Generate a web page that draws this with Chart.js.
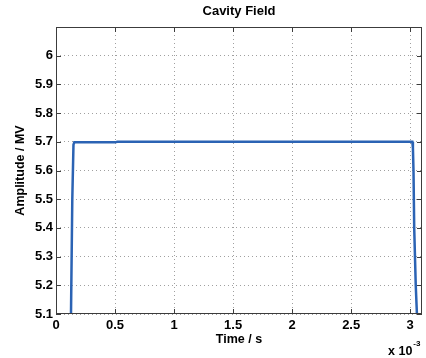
<!DOCTYPE html>
<html>
<head>
<meta charset="utf-8">
<title>Cavity Field</title>
<script src="https://cdn.jsdelivr.net/npm/chart.js@4.4.1/dist/chart.umd.min.js"></script>
<style>
    html, body { margin: 0; padding: 0; background: #fff; }
</style>
</head>
<body>
<canvas id="cavityChart" width="426" height="358"></canvas>
<script>
// time axis is in units of 1e-3 s (multiplier printed under the axis)
const time = [0.120, 0.127, 0.138, 0.148, 0.155, 0.50, 0.52, 3.018, 3.023, 3.028, 3.034, 3.047, 3.057, 3.065];
const amplitude = [5.00, 5.10, 5.50, 5.69, 5.698, 5.698, 5.700, 5.700, 5.68, 5.60, 5.40, 5.20, 5.10, 5.00];

const xTicks = [0, 0.5, 1, 1.5, 2, 2.5, 3];
const yTicks = [5.1, 5.2, 5.3, 5.4, 5.5, 5.6, 5.7, 5.8, 5.9, 6];

const lineColor = "#2b63b4";
const gridColor = "#a0a0a0";
const axisColor = "#3c3c3c";
const fontFamily = "'Liberation Sans', Arial, Helvetica, sans-serif";

const points = time.map((t, i) => ({ x: t, y: amplitude[i] }));

// axes box with inward tick marks, plus the x-axis exponent
const boxPlugin = {
    id: "axesBox",
    afterDatasetsDraw(chart) {
        const { ctx, chartArea: a, scales } = chart;
        const tick = 5;
        ctx.save();
        ctx.strokeStyle = axisColor;
        ctx.lineWidth = 1;
        ctx.strokeRect(a.left + 0.5, a.top + 0.5, a.right - a.left - 1, a.bottom - a.top - 1);

        ctx.beginPath();
        xTicks.forEach((v) => {
            const px = Math.round(scales.x.getPixelForValue(v)) + 0.5;
            ctx.moveTo(px, a.bottom);
            ctx.lineTo(px, a.bottom - tick);
            ctx.moveTo(px, a.top);
            ctx.lineTo(px, a.top + tick);
        });
        yTicks.forEach((v) => {
            const py = Math.round(scales.y.getPixelForValue(v)) + 0.5;
            ctx.moveTo(a.left, py);
            ctx.lineTo(a.left + tick, py);
            ctx.moveTo(a.right, py);
            ctx.lineTo(a.right - tick, py);
        });
        ctx.stroke();

        ctx.fillStyle = "#000";
        ctx.textBaseline = "alphabetic";
        ctx.textAlign = "left";
        ctx.font = `bold 12.5px ${fontFamily}`;
        ctx.fillText("x 10", 388, 355);
        const w = ctx.measureText("x 10").width;
        ctx.font = `bold 8px ${fontFamily}`;
        ctx.fillText("-3", 388 + w + 1, 346);
        ctx.restore();
    }
};

new Chart(document.getElementById("cavityChart"), {
    type: "line",
    data: {
        datasets: [
            {
                data: points,
                borderColor: lineColor,
                borderWidth: 2.5,
                pointRadius: 0,
                tension: 0,
                fill: false
            }
        ]
    },
    options: {
        responsive: false,
        animation: false,
        layout: { padding: { right: 4, left: 0, bottom: 0, top: 0 } },
        plugins: {
            legend: { display: false },
            tooltip: { enabled: false },
            title: {
                display: true,
                text: "Cavity Field",
                fullSize: false,
                color: "#000",
                font: { family: fontFamily, size: 13, weight: "bold" },
                padding: { top: 3.5, bottom: 7.9 }
            }
        },
        scales: {
            x: {
                type: "linear",
                min: 0,
                max: 3.1,
                afterFit: (scale) => { scale.height = 44; },
                afterBuildTicks: (scale) => { scale.ticks = xTicks.map((v) => ({ value: v })); },
                ticks: {
                    color: "#000",
                    padding: 4,
                    maxRotation: 0,
                    font: { family: fontFamily, size: 13, weight: "bold" },
                    callback: (v) => String(v)
                },
                grid: { color: gridColor, drawTicks: false, lineWidth: 1 },
                border: { display: false, dash: [1, 3] },
                title: {
                    display: true,
                    text: "Time / s",
                    color: "#000",
                    font: { family: fontFamily, size: 12.5, weight: "bold" },
                    padding: { top: 0, bottom: 11 }
                }
            },
            y: {
                type: "linear",
                min: 5.1,
                max: 6.1,
                afterFit: (scale) => { scale.width = 56; },
                afterBuildTicks: (scale) => { scale.ticks = yTicks.map((v) => ({ value: v })); },
                ticks: {
                    color: "#000",
                    padding: 3,
                    font: { family: fontFamily, size: 13, weight: "bold" },
                    callback: (v) => (Number.isInteger(v) ? String(v) : v.toFixed(1))
                },
                grid: { color: gridColor, drawTicks: false, lineWidth: 1 },
                border: { display: false, dash: [1, 3] },
                title: {
                    display: true,
                    text: "Amplitude / MV",
                    color: "#000",
                    font: { family: fontFamily, size: 12.5, weight: "bold" },
                    padding: { top: 13, bottom: 0 }
                }
            }
        }
    },
    plugins: [boxPlugin]
});
</script>
</body>
</html>
